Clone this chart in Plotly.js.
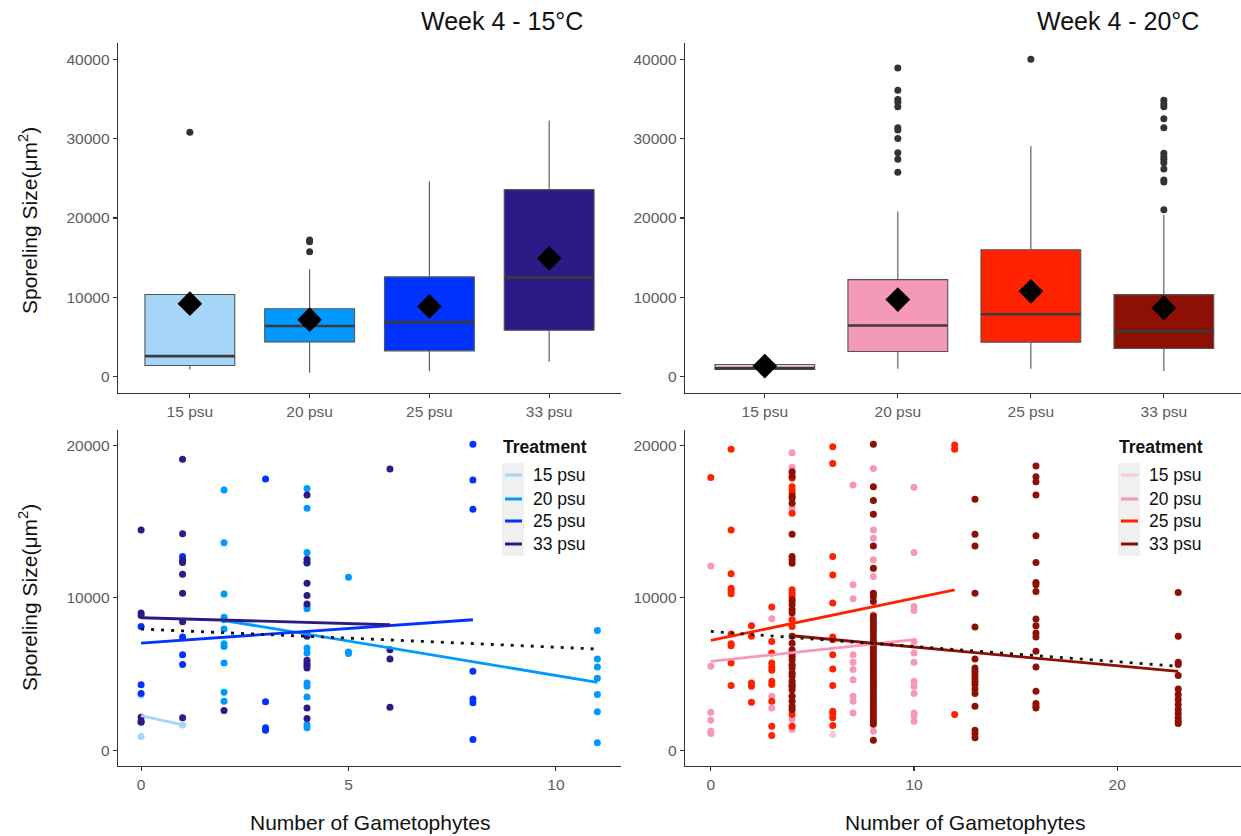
<!DOCTYPE html>
<html>
<head>
<meta charset="utf-8">
<script src="https://cdn.plot.ly/plotly-3.0.1.min.js"></script>
<style>
  html, body { margin: 0; padding: 0; background: #ffffff; }
  #chart { width: 1241px; height: 836px; }
</style>
</head>
<body>
<div id="chart"></div>
<script>
// ---- categories and colours ----
const treatments = ['15 psu', '20 psu', '25 psu', '33 psu'];
const colors15C = ['#A6D6F7', '#0099FF', '#0033FF', '#2E1A87'];
const colors20C = ['#F6CAD6', '#F599BA', '#FF2200', '#8E1005'];

// ---- box summaries, 15 °C ----
const box15_q1 = [1420, 4390, 3260, 5850];
const box15_median = [2590, 6400, 6850, 12500];
const box15_q3 = [10370, 8570, 12580, 23570];
const box15_low = [920, 500, 710, 1880];
const box15_high = [10370, 13540, 24620, 32270];
const box15_mean = [9200, 7190, 8860, 14920];
const out15_cat = [0, 1, 1, 1];
const out15_size = [30800, 17220, 17000, 15760];

// ---- box summaries, 20 °C ----
const box20_q1 = [920, 3180, 4360, 3560];
const box20_median = [1090, 6450, 7870, 5740];
const box20_q3 = [1550, 12230, 16000, 10350];
const box20_low = [880, 1000, 1000, 710];
const box20_high = [1600, 20820, 29070, 20400];
const box20_mean = [1340, 9720, 10760, 8670];
const out20_cat = [1, 1, 1, 1, 1, 1, 1, 1, 1, 1, 1, 2,
                   3, 3, 3, 3, 3, 3, 3, 3, 3, 3, 3, 3, 3];
const out20_size = [38910, 36100, 34930, 34600, 34010, 31370, 31080, 30030, 28230, 27390, 25760, 40000,
                    34850, 34350, 34010, 32500, 31370, 28150, 27730, 27390, 26970, 26180, 24800, 24550, 21030];

// ---- sporeling size vs gametophyte count, 15 °C ----
const cool15_n = [0, 0, 1];
const cool15_size = [900, 3600, 1650];
const cool20_n = [2, 2, 2, 2, 2, 2, 2, 2, 2, 2, 2,
                  4, 4, 4, 4, 4, 4, 4, 4, 4, 4, 4, 4, 4,
                  5, 5, 5,
                  11, 11, 11, 11, 11, 11, 11];
const cool20_size = [17050, 13600, 10230, 8720, 8550, 7940, 6980, 6800, 5710, 3800, 3210,
                     17160, 15860, 12960, 12260, 9420, 9270, 6700, 6370, 4410, 4190, 3490, 1680, 1460,
                     11340, 6430, 6330,
                     7850, 5980, 5450, 4710, 3640, 2510, 480];
const cool25_n = [0, 0, 0, 1, 1, 1, 1, 3, 3, 3, 3, 4, 8, 8, 8, 8, 8, 8, 8];
const cool25_size = [8110, 4280, 3710, 12700, 7420, 6260, 5610, 17780, 3180, 1460, 1310, 7570,
                     20050, 17710, 15790, 5170, 3360, 3100, 700];
const cool33_n = [0, 0, 0, 0, 0, 0,
                  1, 1, 1, 1, 1, 1, 1, 1,
                  2,
                  4, 4, 4, 4, 4, 4, 4, 4, 4, 4, 4, 4, 4,
                  6, 6, 6, 6];
const cool33_size = [14440, 8990, 8830, 2160, 1900, 1830,
                     19080, 14180, 12450, 12300, 11540, 10290, 8420, 2120,
                     2600,
                     16730, 12520, 12300, 10950, 10140, 9580, 7460, 5890, 5710, 5560, 5390, 2770, 2070,
                     18430, 6590, 5980, 2810];

// fitted lines per treatment (start/end count and size), 15 °C
const fit15C_n0 = [0, 2, 0, 0];
const fit15C_n1 = [1, 11, 8, 6];
const fit15C_y0 = [2270, 8500, 7020, 8680];
const fit15C_y1 = [1660, 4450, 8550, 8220];
const all15C_n = [0, 11];
const all15C_fit = [7940, 6630];

// ---- sporeling size vs gametophyte count, 20 °C ----
const warm15_n = [6];
const warm15_size = [1030];
const warm20_n = [0, 0, 0, 0, 0, 0,
                  3, 3, 3,
                  4, 4, 4, 4, 4, 4, 4, 4, 4, 4, 4, 4,
                  7, 7, 7, 7, 7, 7, 7, 7, 7, 7,
                  8, 8, 8, 8, 8, 8, 8, 8, 8,
                  10, 10, 10, 10, 10, 10, 10, 10, 10, 10, 10, 10, 10];
const warm20_size = [12080, 5500, 2490, 1960, 1240, 1090,
                     8620, 3530, 2770,
                     19500, 18540, 18200, 15860, 8590, 6370, 5560, 5060, 4190, 3530, 2010, 1350,
                     17380, 10840, 9920, 6260, 5760, 5280, 4620, 3530, 3210, 2440,
                     18470, 14440, 13890, 12480, 11930, 11390, 8880, 2440, 1240,
                     17230, 12960, 9420, 9160, 7130, 6370, 5760, 4520, 4190, 3710, 2440, 2270, 1900];
const warm25_n = [0,
                  1, 1, 1, 1, 1, 1, 1, 1, 1, 1, 1,
                  2, 2, 2, 2, 2,
                  3, 3, 3, 3, 3, 3, 3, 3, 3, 3, 3,
                  4, 4, 4, 4, 4, 4, 4, 4, 4, 4, 4, 4, 4,
                  6, 6, 6, 6, 6, 6, 6, 6, 6, 6, 6, 6, 6, 6,
                  12, 12, 12];
const warm25_size = [17880,
                     19720, 14440, 11560, 10620, 10470, 10250, 7610, 6980, 6850, 5710, 4230,
                     8160, 7460, 4410, 4190, 3140,
                     9380, 7130, 6370, 5710, 5450, 5230, 4520, 4300, 3210, 1570, 960,
                     17820, 17270, 17060, 16840, 15530, 10510, 10290, 10080, 9750, 8550, 8110, 2330, 1570,
                     19890, 18800, 12690, 11490, 9640, 7420, 7240, 6260, 5320, 4230, 2550, 2400, 2120, 1610,
                     20000, 19720, 2330];
const warm33_n = [4, 4, 4, 4, 4, 4, 4, 4, 4, 4, 4, 4, 4, 4, 4, 4, 4, 4, 4, 4, 4, 4, 4, 4, 4, 4, 4, 4, 4, 4, 4,
                  8, 8, 8, 8, 8, 8, 8, 8, 8, 8, 8, 8, 8, 8, 8, 8, 8, 8, 8, 8, 8, 8, 8, 8, 8, 8, 8, 8, 8, 8,
                  8, 8, 8, 8, 8, 8, 8, 8, 8, 8, 8, 8, 8, 8, 8, 8,
                  13, 13, 13, 13, 13, 13, 13, 13, 13, 13, 13, 13, 13, 13, 13, 13, 13, 13,
                  16, 16, 16, 16, 16, 16, 16, 16, 16, 16, 16, 16, 16, 16, 16, 16, 16, 16, 16,
                  23, 23, 23, 23, 23, 23, 23, 23, 23, 23, 23, 23, 23, 23];
const warm33_size = [18250, 17950, 16660, 16510, 16180, 14150, 12690, 12480, 12260, 9860, 9530, 9200, 9000,
                     7460, 7000, 6590, 6370, 6150, 5930, 5600, 5390, 5060, 4840, 4520, 4300, 4190, 3960,
                     3530, 3200, 2880, 2660,
                     20060, 17270, 16360, 15460, 13390, 11930, 10290, 10080, 9750,
                     8800, 8600, 8400, 8200, 8000, 7800, 7550, 7300, 7100, 6900, 6700, 6500, 6300, 6100,
                     5900, 5700, 5500, 5300, 5100, 4900, 4700, 4500, 4300, 4100, 3900, 3700, 3500, 3300,
                     3100, 2900, 2700, 2500, 2300, 2100, 1900, 1700, 650,
                     16450, 14150, 13390, 10290, 8070, 5980, 5390, 5170, 4950, 4730, 4520, 4300, 4010,
                     3710, 2880, 1310, 1090, 810,
                     18630, 17930, 17600, 16730, 14050, 12300, 10990, 10840, 10400, 8590, 8160, 7680,
                     7420, 6480, 5450, 3860, 3050, 2880, 2770,
                     10340, 7460, 5760, 5610, 4890, 4010, 3640, 3320, 2990, 2660, 2400, 2120, 1900, 1750];

// fitted lines per treatment, 20 °C (no line for the single 15 psu point)
const fit20C_n0 = [null, 0, 0, 4];
const fit20C_n1 = [null, 10, 12, 23];
const fit20C_y0 = [null, 5820, 7200, 7500];
const fit20C_y1 = [null, 7240, 10510, 5170];
const all20C_n = [0, 23];
const all20C_fit = [7790, 5500];

// ---- page geometry helpers (pixel -> paper) ----
const W = 1241, H = 836;
const px = v => v / W;
const py = v => 1 - v / H;
const FONT = 'Liberation Sans, Arial, Helvetica, sans-serif';
const TICK_GREY = '#5c5c5c';
const BOX_HALF = 0.375;

const traces = [];

function addBoxPanel(xa, ya, colors, q1, med, q3, lo, hi, mean, outCat, outSize) {
  treatments.forEach((t, i) => {
    traces.push({
      type: 'box', xaxis: xa, yaxis: ya, x: [i],
      q1: [q1[i]], median: [med[i]], q3: [q3[i]],
      lowerfence: [lo[i]], upperfence: [hi[i]],
      width: 2 * BOX_HALF, whiskerwidth: 0,
      fillcolor: colors[i],
      line: { color: '#555555', width: 1.1 },
      boxpoints: false, showlegend: false, hoverinfo: 'skip'
    });
  });
  // thicker median bars
  const mx = [], my = [];
  med.forEach((m, i) => { mx.push(i - BOX_HALF, i + BOX_HALF, null); my.push(m, m, null); });
  traces.push({
    type: 'scatter', mode: 'lines', xaxis: xa, yaxis: ya, x: mx, y: my,
    line: { color: '#3a3a3a', width: 2.6 }, showlegend: false, hoverinfo: 'skip'
  });
  // outliers
  traces.push({
    type: 'scatter', mode: 'markers', xaxis: xa, yaxis: ya, x: outCat, y: outSize,
    marker: { color: '#333333', size: 7 }, showlegend: false, hoverinfo: 'skip'
  });
  // means
  traces.push({
    type: 'scatter', mode: 'markers', xaxis: xa, yaxis: ya,
    x: treatments.map((t, i) => i), y: mean,
    marker: { symbol: 'diamond', color: '#000000', size: 19 },
    showlegend: false, hoverinfo: 'skip'
  });
}

function addScatterPanel(xa, ya, colors, groupsN, groupsY, n0, n1, y0, y1, allN, allFit) {
  groupsN.forEach((nArr, i) => {
    traces.push({
      type: 'scatter', mode: 'markers', xaxis: xa, yaxis: ya, x: nArr, y: groupsY[i],
      marker: { color: colors[i], size: 7 }, showlegend: false, hoverinfo: 'skip'
    });
  });
  n0.forEach((s, i) => {
    if (s === null) return;
    traces.push({
      type: 'scatter', mode: 'lines', xaxis: xa, yaxis: ya,
      x: [n0[i], n1[i]], y: [y0[i], y1[i]],
      line: { color: colors[i], width: 2.8 }, showlegend: false, hoverinfo: 'skip'
    });
  });
  traces.push({
    type: 'scatter', mode: 'lines', xaxis: xa, yaxis: ya, x: allN, y: allFit,
    line: { color: '#111111', width: 2.8, dash: '3px,7px' }, showlegend: false, hoverinfo: 'skip'
  });
}

addBoxPanel('x', 'y', colors15C, box15_q1, box15_median, box15_q3, box15_low, box15_high, box15_mean, out15_cat, out15_size);
addBoxPanel('x2', 'y2', colors20C, box20_q1, box20_median, box20_q3, box20_low, box20_high, box20_mean, out20_cat, out20_size);
addScatterPanel('x3', 'y3', colors15C,
  [cool15_n, cool20_n, cool25_n, cool33_n], [cool15_size, cool20_size, cool25_size, cool33_size],
  fit15C_n0, fit15C_n1, fit15C_y0, fit15C_y1, all15C_n, all15C_fit);
addScatterPanel('x4', 'y4', colors20C,
  [warm15_n, warm20_n, warm25_n, warm33_n], [warm15_size, warm20_size, warm25_size, warm33_size],
  fit20C_n0, fit20C_n1, fit20C_y0, fit20C_y1, all20C_n, all20C_fit);

// ---- axes ----
const baseAxis = {
  showline: true, linecolor: '#333333', linewidth: 1.3,
  ticks: 'outside', ticklen: 4, tickwidth: 1.1, tickcolor: '#333333',
  tickfont: { family: FONT, size: 15.5, color: TICK_GREY },
  showgrid: false, zeroline: false, fixedrange: true
};
const leftDom = [px(118), px(621)];
const rightDom = [px(685), 1];
const topDom = [py(393), py(43)];
const botDom = [py(766), py(430)];

const layout = {
  width: W, height: H,
  margin: { l: 0, r: 0, t: 0, b: 0 },
  paper_bgcolor: '#ffffff', plot_bgcolor: '#ffffff',
  font: { family: FONT },
  showlegend: false,
  xaxis:  Object.assign({}, baseAxis, { domain: leftDom, anchor: 'y', range: [-0.6, 3.6],
          tickvals: [0, 1, 2, 3], ticktext: treatments }),
  yaxis:  Object.assign({}, baseAxis, { domain: topDom, anchor: 'x', range: [-2050, 42050],
          tickvals: [0, 10000, 20000, 30000, 40000], tickformat: 'd' }),
  xaxis2: Object.assign({}, baseAxis, { domain: rightDom, anchor: 'y2', range: [-0.6, 3.58],
          tickvals: [0, 1, 2, 3], ticktext: treatments }),
  yaxis2: Object.assign({}, baseAxis, { domain: topDom, anchor: 'x2', range: [-2050, 42050],
          tickvals: [0, 10000, 20000, 30000, 40000], tickformat: 'd' }),
  xaxis3: Object.assign({}, baseAxis, { domain: leftDom, anchor: 'y3', range: [-0.557, 11.57],
          tickvals: [0, 5, 10] }),
  yaxis3: Object.assign({}, baseAxis, { domain: botDom, anchor: 'x3', range: [-1040, 20990],
          tickvals: [0, 10000, 20000], tickformat: 'd' }),
  xaxis4: Object.assign({}, baseAxis, { domain: rightDom, anchor: 'y4', range: [-1.27, 26.09],
          tickvals: [0, 10, 20] }),
  yaxis4: Object.assign({}, baseAxis, { domain: botDom, anchor: 'x4', range: [-1040, 20990],
          tickvals: [0, 10000, 20000], tickformat: 'd' }),
  annotations: [],
  shapes: []
};

const ann = layout.annotations;
// panel titles
ann.push({ xref: 'paper', yref: 'paper', x: px(502), y: py(21), text: 'Week 4 - 15°C',
  showarrow: false, xanchor: 'center', yanchor: 'middle', font: { size: 25, color: '#111111' } });
ann.push({ xref: 'paper', yref: 'paper', x: px(1118), y: py(21), text: 'Week 4 - 20°C',
  showarrow: false, xanchor: 'center', yanchor: 'middle', font: { size: 25, color: '#111111' } });
// y axis titles
[221, 598].forEach(cy => ann.push({ xref: 'paper', yref: 'paper', x: px(28), y: py(cy),
  text: 'Sporeling Size(μm<sup>2</sup>)', textangle: -90, showarrow: false,
  xanchor: 'center', yanchor: 'middle', font: { size: 21, color: '#111111' } }));
// x axis titles
[370, 965].forEach(cx => ann.push({ xref: 'paper', yref: 'paper', x: px(cx), y: py(822),
  text: 'Number of Gametophytes', showarrow: false, xanchor: 'center', yanchor: 'middle',
  font: { size: 21, color: '#111111' } }));

// treatment keys inside the lower panels
function addKey(left, colors) {
  ann.push({ xref: 'paper', yref: 'paper', x: px(left - 1), y: py(447), text: '<b>Treatment</b>',
    showarrow: false, xanchor: 'left', yanchor: 'middle', font: { size: 17.5, color: '#111111' } });
  layout.shapes.push({ type: 'rect', xref: 'paper', yref: 'paper',
    x0: px(left), x1: px(left + 22), y0: py(556), y1: py(463),
    fillcolor: '#F0F0F0', line: { width: 0 }, layer: 'below' });
  const rows = [475, 499, 521, 544];
  treatments.forEach((t, i) => {
    layout.shapes.push({ type: 'line', xref: 'paper', yref: 'paper',
      x0: px(left + 3), x1: px(left + 20), y0: py(rows[i]), y1: py(rows[i]),
      line: { color: colors[i], width: 3 } });
    ann.push({ xref: 'paper', yref: 'paper', x: px(left + 29), y: py(rows[i]), text: t,
      showarrow: false, xanchor: 'left', yanchor: 'middle', font: { size: 17.5, color: '#111111' } });
  });
}
addKey(502, colors15C);
addKey(1118, colors20C);

Plotly.newPlot('chart', traces, layout, { displayModeBar: false, staticPlot: true });
</script>
</body>
</html>
